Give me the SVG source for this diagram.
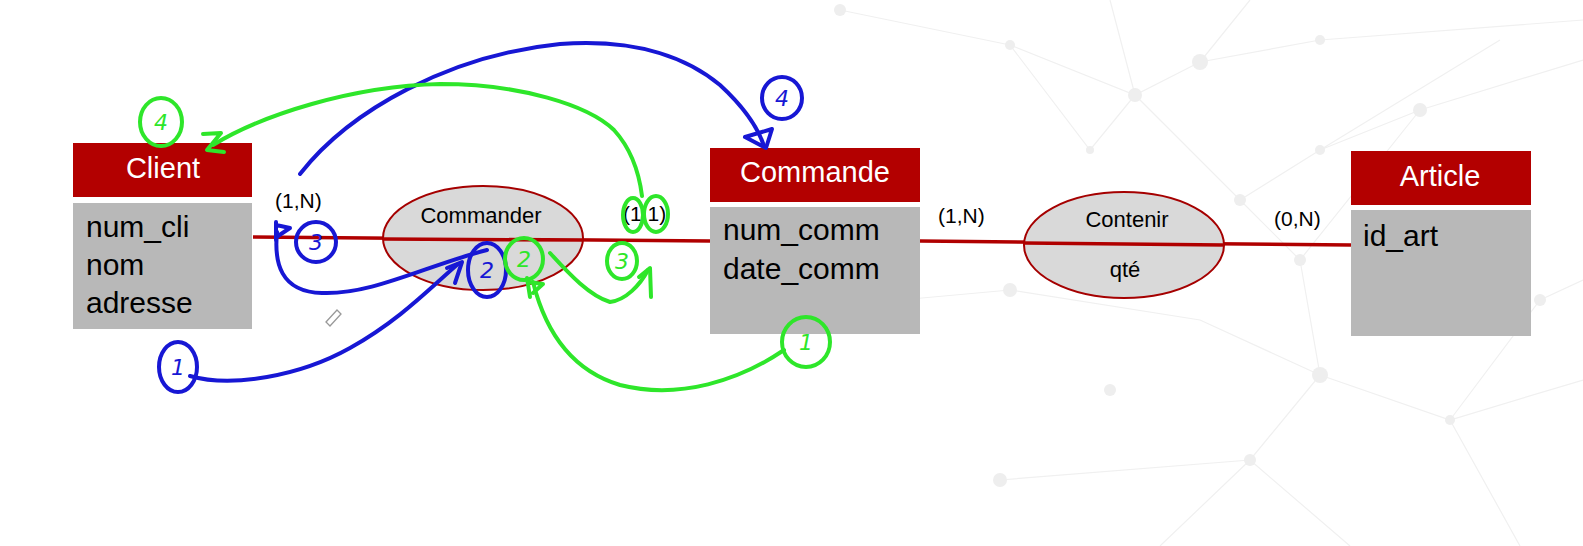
<svg xmlns="http://www.w3.org/2000/svg" width="1583" height="546" viewBox="0 0 1583 546">
<style>
.hdr{fill:#b30000}
.body{fill:#b8b8b8}
.title{font-family:"Liberation Sans",Arial,sans-serif;font-size:29px;fill:#fff;text-anchor:middle}
.attr{font-family:"Liberation Sans",Arial,sans-serif;font-size:30px;fill:#000}
.rel{fill:#d9d9d9;stroke:#a50000;stroke-width:2}
.rtxt{font-family:"Liberation Sans",Arial,sans-serif;font-size:22px;fill:#000;text-anchor:middle}
.card{font-family:"Liberation Sans",Arial,sans-serif;font-size:21px;fill:#000}
.link{stroke:#b00000;stroke-width:3.5;fill:none}
.bl{stroke:#1717d4;stroke-width:4;fill:none;stroke-linecap:round;stroke-linejoin:round}
.gr{stroke:#2ee62a;stroke-width:4;fill:none;stroke-linecap:round;stroke-linejoin:round}
.blt{font-family:"DejaVu Sans",sans-serif;font-size:22px;font-style:italic;fill:#1717d4;text-anchor:middle}
.grt{font-family:"DejaVu Sans",sans-serif;font-size:22px;font-style:italic;fill:#2ee62a;text-anchor:middle}
.bgl{stroke:#f0f0f0;stroke-width:1.2;fill:none}
.bgn{fill:#eeeeee}
</style>
<rect width="1583" height="546" fill="#fff"/>
<g id="background">
<path class="bgl" d="M840,10 L1010,45 L1135,95 L1200,62 L1320,40 L1583,20 M1010,45 L1090,150 L1135,95 L1240,200 L1320,150 L1420,110 L1583,60 M1135,95 L1110,0 M1200,62 L1250,0 M1240,200 L1300,260 L1420,110 M1320,150 L1500,40 M1300,260 L1320,375 L1250,460 L1160,546 M1320,375 L1450,420 L1583,380 M1250,460 L1350,546 M1320,375 L1200,320 L1010,290 M1450,420 L1520,546 M900,300 L1010,290 M1250,460 L1000,480 M1450,420 L1540,300 L1583,280"/>
<circle class="bgn" cx="840" cy="10" r="6"/>
<circle class="bgn" cx="1010" cy="45" r="5"/>
<circle class="bgn" cx="1135" cy="95" r="7"/>
<circle class="bgn" cx="1200" cy="62" r="8"/>
<circle class="bgn" cx="1320" cy="40" r="5"/>
<circle class="bgn" cx="1090" cy="150" r="4"/>
<circle class="bgn" cx="1240" cy="200" r="6"/>
<circle class="bgn" cx="1320" cy="150" r="5"/>
<circle class="bgn" cx="1420" cy="110" r="7"/>
<circle class="bgn" cx="1300" cy="260" r="6"/>
<circle class="bgn" cx="1320" cy="375" r="8"/>
<circle class="bgn" cx="1250" cy="460" r="6"/>
<circle class="bgn" cx="1450" cy="420" r="5"/>
<circle class="bgn" cx="1010" cy="290" r="7"/>
<circle class="bgn" cx="1000" cy="480" r="7"/>
<circle class="bgn" cx="1540" cy="300" r="6"/>
<circle class="bgn" cx="1110" cy="390" r="6"/>
<circle class="bgn" cx="900" cy="300" r="4"/>
</g>
<g id="connectors">
<path class="link" d="M253,237 L710,241"/>
<path class="link" d="M920,241 L1351,245"/>
</g>
<g id="client">
<rect class="hdr" x="73" y="143" width="179" height="54"/>
<rect class="body" x="73" y="203" width="179" height="126"/>
<text class="title" x="163" y="178">Client</text>
<text class="attr" x="86" y="237">num_cli</text>
<text class="attr" x="86" y="275">nom</text>
<text class="attr" x="86" y="313">adresse</text>
</g>
<g id="commande">
<rect class="hdr" x="710" y="148" width="210" height="54"/>
<rect class="body" x="710" y="207" width="210" height="127"/>
<text class="title" x="815" y="182">Commande</text>
<text class="attr" x="723" y="240">num_comm</text>
<text class="attr" x="723" y="279">date_comm</text>
</g>
<g id="article">
<rect class="hdr" x="1351" y="151" width="180" height="54"/>
<rect class="body" x="1351" y="210" width="180" height="126"/>
<text class="title" x="1440" y="186">Article</text>
<text class="attr" x="1363" y="246">id_art</text>
</g>
<g id="commander">
<ellipse class="rel" cx="483" cy="238" rx="100" ry="52"/>
<path class="link" d="M383,239 L583,240"/>
<text class="rtxt" x="481" y="223">Commander</text>
</g>
<g id="contenir">
<ellipse class="rel" cx="1124" cy="245" rx="100" ry="53"/>
<path class="link" d="M1024,243 L1224,245"/>
<text class="rtxt" x="1127" y="227">Contenir</text>
<text class="rtxt" x="1125" y="277">qté</text>
</g>
<g id="cardinalities">
<text class="card" x="275" y="208">(1,N)</text>
<text class="card" x="623" y="221">(1,1)</text>
<text class="card" x="938" y="223">(1,N)</text>
<text class="card" x="1274" y="226">(0,N)</text>
</g>
<g id="annotations">
<path class="bl" d="M300,174 C350,110 450,55 560,44 C640,38 690,60 720,85 C745,108 758,128 764,146"/>
<path class="bl" d="M745,137 L772,129 L766,148 Z"/>
<ellipse class="bl" cx="782" cy="98" rx="20" ry="21"/>
<text class="blt" x="782" y="106">4</text>
<path class="bl" d="M277,232 C274,262 280,292 322,293 C372,295 425,266 487,250"/>
<path class="bl" d="M276,222 L276,240 M276,225 L290,228 L278,236"/>
<ellipse class="bl" cx="316" cy="242" rx="20" ry="20"/>
<text class="blt" x="316" y="250">3</text>
<ellipse class="bl" cx="487" cy="270" rx="19" ry="27"/>
<text class="blt" x="487" y="278">2</text>
<path class="bl" d="M190,376 C232,388 300,376 350,348 C400,320 430,288 458,264"/>
<path class="bl" d="M447,268 L462,262 L455,283"/>
<ellipse class="bl" cx="178" cy="367" rx="19" ry="25"/>
<text class="blt" x="178" y="375">1</text>
<path class="gr" d="M213,145 C262,115 352,86 440,84 C520,84 588,105 614,130 C634,152 640,180 642,196"/>
<path class="gr" d="M203,134 L221,133 L207,150 L224,152"/>
<ellipse class="gr" cx="161" cy="122" rx="21" ry="24"/>
<text class="grt" x="161" y="130">4</text>
<ellipse class="gr" cx="633" cy="215" rx="10" ry="17"/>
<ellipse class="gr" cx="656" cy="214" rx="12" ry="18"/>
<ellipse class="gr" cx="622" cy="261" rx="15" ry="18"/>
<text class="grt" x="622" y="269">3</text>
<path class="gr" d="M550,253 C570,275 590,296 610,302 C626,300 640,285 648,270"/>
<path class="gr" d="M639,277 L650,268 L651,297"/>
<ellipse class="gr" cx="524" cy="259" rx="19" ry="21"/>
<text class="grt" x="524" y="267">2</text>
<path class="gr" d="M533,282 C545,330 570,370 620,385 C680,400 740,380 784,350"/>
<path class="gr" d="M527,278 L530,297 M528,282 L543,284 L533,293"/>
<ellipse class="gr" cx="806" cy="342" rx="24" ry="25"/>
<text class="grt" x="806" y="350">1</text>
<path d="M326,322 L337,310 L341,314 L330,326 Z" fill="none" stroke="#999" stroke-width="1.3"/>
</g>
</svg>
